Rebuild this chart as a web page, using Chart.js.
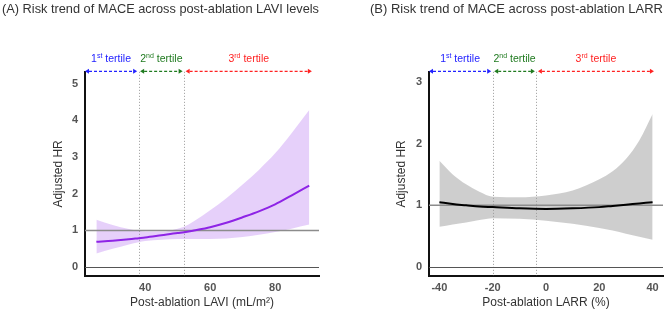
<!DOCTYPE html>
<html lang="en">
<head>
  <meta charset="utf-8" />
  <title>Risk trend of MACE across post-ablation LAVI and LARR</title>
  <script src="https://cdn.jsdelivr.net/npm/chart.js@4.4.1/dist/chart.umd.min.js"></script>
  <style>
    body { margin: 0; background: #fff; }
    #wrap { position: relative; width: 669px; height: 312px; }
    #wrap canvas { position: absolute; top: 0; }
  </style>
</head>
<body>
  <div id="wrap">
    <canvas id="chartA" width="335" height="312" style="left:0"></canvas>
    <canvas id="chartB" width="334" height="312" style="left:335px"></canvas>
  </div>

  <script>
    // ---- Panel A: post-ablation LAVI (mL/m2) ----
    const laviX  = [25, 30, 35, 38, 40, 45, 50, 52, 55, 60, 65, 70, 75, 80, 85, 90.5];
    const laviHR = [0.69, 0.72, 0.76, 0.79, 0.81, 0.87, 0.93, 0.95, 1.00, 1.09, 1.21, 1.36, 1.52, 1.71, 1.95, 2.22];
    const laviLo = [0.37, 0.50, 0.62, 0.68, 0.71, 0.75, 0.77, 0.77, 0.77, 0.77, 0.78, 0.82, 0.88, 0.96, 1.05, 1.16];
    const laviHi = [1.29, 1.15, 1.04, 0.99, 0.97, 0.97, 1.05, 1.10, 1.25, 1.55, 1.88, 2.25, 2.65, 3.10, 3.64, 4.28];
    const laviTertiles = [21.5, 38, 52, 91.3];   // axis start, cut 1, cut 2, data end
    const laviXTicks = [40, 60, 80];
    const laviYTicks = [0, 1, 2, 3, 4, 5];

    // ---- Panel B: post-ablation LARR (%) ----
    const larrX  = [-40, -35, -30, -25, -20, -10, 0, 10, 20, 25, 30, 35, 40];
    const larrHR = [1.05, 1.02, 1.00, 0.98, 0.97, 0.95, 0.94, 0.95, 0.97, 0.99, 1.01, 1.03, 1.05];
    const larrLo = [0.65, 0.69, 0.72, 0.76, 0.79, 0.78, 0.75, 0.70, 0.63, 0.59, 0.54, 0.49, 0.44];
    const larrHi = [1.72, 1.50, 1.34, 1.22, 1.14, 1.13, 1.16, 1.24, 1.42, 1.55, 1.75, 2.05, 2.48];
    const larrTertiles = [-43.9, -20, -3.6, 40.5];
    const larrXTicks = [-40, -20, 0, 20, 40];
    const larrYTicks = [0, 1, 2, 3];

    const tertileNames = [["1", "st"], ["2", "nd"], ["3", "rd"]];
    const tertileColors = ["#2222ff", "#1f7a1f", "#ff2222"];

    const FONT = '"Liberation Sans", Arial, sans-serif';

    // horizontal reference lines (HR = 1, HR = 0) and dotted tertile cuts, drawn under the curve
    const refLines = {
      id: 'refLines',
      beforeDatasetDraw(chart, args) {
        if (args.index !== 0) return;
        const {ctx, chartArea: a, scales: {x, y}} = chart;
        const cuts = chart.options.plugins.tertiles.edges.slice(1, 3);
        ctx.save();
        ctx.strokeStyle = '#999';
        ctx.lineWidth = 1;
        ctx.setLineDash([1, 2]);
        cuts.forEach(c => {
          const px = Math.round(x.getPixelForValue(c)) + 0.5;
          ctx.beginPath(); ctx.moveTo(px, a.top); ctx.lineTo(px, a.bottom); ctx.stroke();
        });
        ctx.setLineDash([]);
        ctx.strokeStyle = '#8c8c8c';
        ctx.lineWidth = 1.5;
        let py = y.getPixelForValue(1);
        ctx.beginPath(); ctx.moveTo(a.left, py); ctx.lineTo(a.right, py); ctx.stroke();
        ctx.strokeStyle = '#555';
        ctx.lineWidth = 1;
        py = Math.round(y.getPixelForValue(0)) + 0.5;
        ctx.beginPath(); ctx.moveTo(a.left, py); ctx.lineTo(a.right, py); ctx.stroke();
        ctx.restore();
      }
    };

    function dashedArrow(ctx, x1, x2, y, color) {
      const head = 4;
      ctx.strokeStyle = color;
      ctx.fillStyle = color;
      ctx.lineWidth = 1.2;
      ctx.setLineDash([3, 2]);
      ctx.beginPath(); ctx.moveTo(x1 + head, y); ctx.lineTo(x2 - head, y); ctx.stroke();
      ctx.setLineDash([]);
      ctx.beginPath(); ctx.moveTo(x1, y); ctx.lineTo(x1 + head, y - 2.5); ctx.lineTo(x1 + head, y + 2.5); ctx.closePath(); ctx.fill();
      ctx.beginPath(); ctx.moveTo(x2, y); ctx.lineTo(x2 - head, y - 2.5); ctx.lineTo(x2 - head, y + 2.5); ctx.closePath(); ctx.fill();
    }

    function tertileLabel(ctx, parts, cx, cy, color) {
      const big = '10.5px ' + FONT, small = '7px ' + FONT;
      ctx.font = big;
      const w1 = ctx.measureText(parts[0]).width, w3 = ctx.measureText(' tertile').width;
      ctx.font = small;
      const w2 = ctx.measureText(parts[1]).width;
      let x = cx - (w1 + w2 + w3) / 2;
      ctx.fillStyle = color;
      ctx.textAlign = 'left';
      ctx.textBaseline = 'middle';
      ctx.font = big; ctx.fillText(parts[0], x, cy); x += w1;
      ctx.font = small; ctx.fillText(parts[1], x, cy - 3); x += w2;
      ctx.font = big; ctx.fillText(' tertile', x, cy);
    }

    // tertile arrows + labels above the plot area
    const tertiles = {
      id: 'tertiles',
      afterDraw(chart, args, opts) {
        const {ctx, chartArea: a, scales: {x}} = chart;
        const px = opts.edges.map(v => x.getPixelForValue(v));
        ctx.save();
        for (let i = 0; i < 3; i++) {
          const x1 = px[i] + (i > 0 ? 1.5 : 0);
          const x2 = px[i + 1] - (i < 2 ? 1.5 : 0);
          dashedArrow(ctx, x1, x2, a.top - 0.5, tertileColors[i]);
          tertileLabel(ctx, tertileNames[i], (x1 + x2) / 2, a.top - 12.5, tertileColors[i]);
        }
        ctx.restore();
      }
    };

    function makePanel(id, p) {
      const pts = ys => p.x.map((v, i) => ({x: v, y: ys[i]}));
      return new Chart(document.getElementById(id), {
        type: 'line',
        data: {
          datasets: [
            { data: pts(p.hr), borderColor: p.lineColor, borderWidth: 2, pointRadius: 0, cubicInterpolationMode: 'monotone', fill: false },
            { data: pts(p.lo), borderWidth: 0, borderColor: 'transparent', pointRadius: 0, cubicInterpolationMode: 'monotone', fill: false },
            { data: pts(p.hi), borderWidth: 0, borderColor: 'transparent', pointRadius: 0, cubicInterpolationMode: 'monotone', fill: '-1', backgroundColor: p.bandColor }
          ]
        },
        options: {
          responsive: false,
          animation: false,
          events: [],
          layout: { padding: { left: p.padLeft, right: p.padRight, top: 0, bottom: 0 } },
          plugins: {
            legend: { display: false },
            tooltip: { enabled: false },
            title: {
              display: true, text: p.title, align: 'start', color: '#333',
              font: { family: FONT, size: 13.2, weight: 'normal' },
              padding: { top: 1, bottom: 55 }
            },
            tertiles: { edges: p.edges }
          },
          scales: {
            x: {
              type: 'linear', min: p.xMin, max: p.xMax,
              grid: { display: false, drawTicks: false },
              border: { color: '#111', width: 2 },
              ticks: { color: '#555', padding: 5, font: { family: FONT, size: 11, weight: 'bold' } },
              title: { display: true, text: p.xTitle, color: '#333', font: { family: FONT, size: 12 }, padding: { top: 0, bottom: 2 } },
              afterBuildTicks: s => { s.ticks = p.xTicks.map(v => ({value: v})); },
              afterFit: s => { s.height = 36; }
            },
            y: {
              type: 'linear', min: p.yMin, max: p.yMax,
              grid: { display: false, drawTicks: false },
              border: { color: '#111', width: 2 },
              ticks: { color: '#555', padding: 7, font: { family: FONT, size: 11, weight: 'bold' } },
              title: { display: true, text: 'Adjusted HR', color: '#333', font: { family: FONT, size: 12 }, padding: { top: p.yTitlePad, bottom: 0 } },
              afterBuildTicks: s => { s.ticks = p.yTicks.map(v => ({value: v})); },
              afterFit: s => { s.width = p.yWidth; }
            }
          }
        },
        plugins: [refLines, tertiles]
      });
    }

    makePanel('chartA', {
      title: '(A) Risk trend of MACE across post-ablation LAVI levels',
      xTitle: 'Post-ablation LAVI (mL/m\u00B2)',
      x: laviX, hr: laviHR, lo: laviLo, hi: laviHi, edges: laviTertiles,
      xTicks: laviXTicks, yTicks: laviYTicks,
      xMin: 21.5, xMax: 93.5, yMin: -0.24, yMax: 5.32,
      lineColor: '#8e24e6', bandColor: 'rgba(200, 150, 245, 0.45)',
      padLeft: 2, padRight: 16, yWidth: 83, yTitlePad: 49
    });

    makePanel('chartB', {
      title: '(B) Risk trend of MACE across post-ablation LARR',
      xTitle: 'Post-ablation LARR (%)',
      x: larrX, hr: larrHR, lo: larrLo, hi: larrHi, edges: larrTertiles,
      xTicks: larrXTicks, yTicks: larrYTicks,
      xMin: -43.9, xMax: 43.9, yMin: -0.146, yMax: 3.162,
      lineColor: '#000', bandColor: 'rgba(190, 190, 190, 0.75)',
      padLeft: 35, padRight: 6, yWidth: 59, yTitlePad: 24.5
    });
  </script>
</body>
</html>
